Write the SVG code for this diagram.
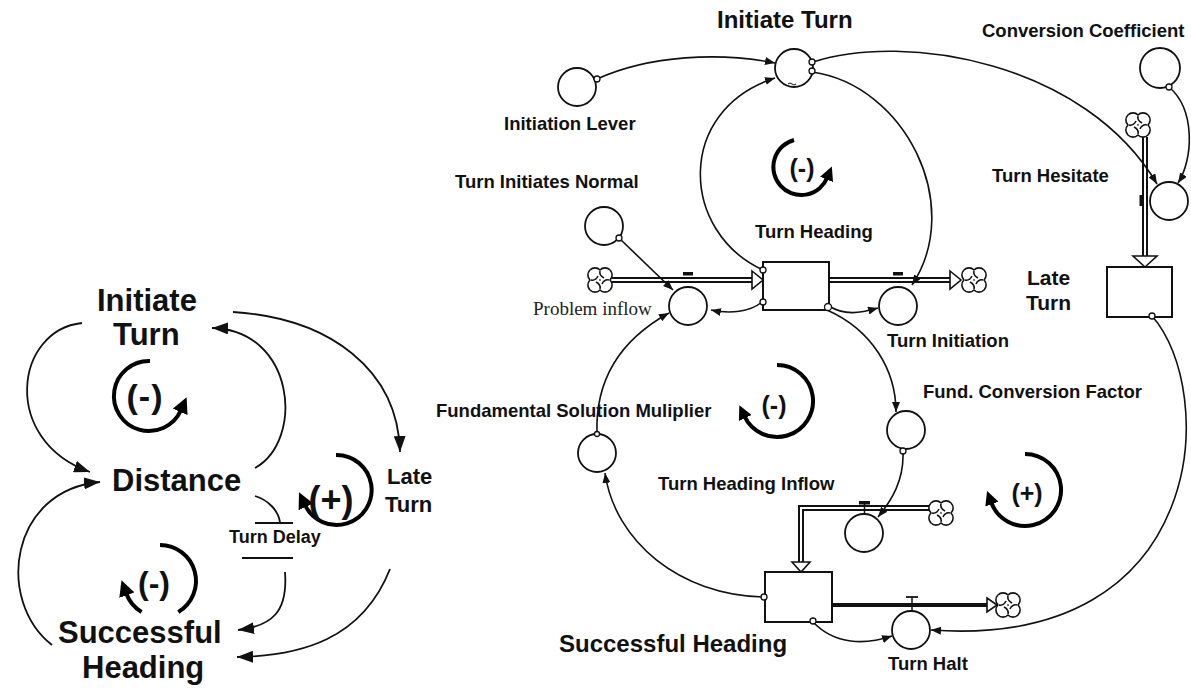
<svg xmlns="http://www.w3.org/2000/svg" xmlns:xlink="http://www.w3.org/1999/xlink" width="1191" height="688" viewBox="0 0 1191 688">
<style>
.bg{fill:#fff}
.t{font-family:"Liberation Sans",Arial,sans-serif;font-weight:bold;fill:#111}
.big{font-size:31px}
.lbl{font-size:18.5px}
.ser{font-family:"Liberation Serif","Times New Roman",serif;font-size:19px;fill:#222}
.c{fill:none;stroke:#111;stroke-width:1.6}
.cl{fill:none;stroke:#111;stroke-width:1.8}
.loop{fill:none;stroke:#000;stroke-width:4}
.aux{fill:#fff;stroke:#111;stroke-width:1.8}
.stock{fill:#fff;stroke:#111;stroke-width:2}
.dot{fill:#fff;stroke:#111;stroke-width:1.3}
.pipeO{fill:none;stroke:#111;stroke-width:6}
.pipeI{fill:none;stroke:#fff;stroke-width:2}
.hollow{fill:#fff;stroke:#111;stroke-width:1.6}
</style>
<defs>
<marker id="a" viewBox="0 0 10 8" refX="10" refY="4" markerWidth="10" markerHeight="8" markerUnits="userSpaceOnUse" orient="auto"><path d="M0,0 L10,4 L0,8 z" fill="#111"/></marker>
<marker id="aL" viewBox="0 0 16 12" refX="16" refY="6" markerWidth="16" markerHeight="12" markerUnits="userSpaceOnUse" orient="auto"><path d="M0,0 L16,6 L0,12 z" fill="#111"/></marker>
<marker id="aLoop" viewBox="0 0 16 16" refX="2" refY="8" markerWidth="16" markerHeight="16" markerUnits="userSpaceOnUse" orient="auto"><path d="M0,0 L16,8 L0,16 z" fill="#000"/></marker>
<marker id="aLoopS" viewBox="0 0 14 14" refX="2" refY="7" markerWidth="14" markerHeight="14" markerUnits="userSpaceOnUse" orient="auto"><path d="M0,0 L14,7 L0,14 z" fill="#000"/></marker>
<g id="cloud">
<g fill="#fff" stroke="#111" stroke-width="3.2">
<circle cx="-5" cy="-5" r="6.3"/><circle cx="5" cy="-5" r="6.3"/><circle cx="-5" cy="5" r="6.3"/><circle cx="5" cy="5" r="6.3"/>
</g>
<g fill="#fff">
<circle cx="-5" cy="-5" r="6.3"/><circle cx="5" cy="-5" r="6.3"/><circle cx="-5" cy="5" r="6.3"/><circle cx="5" cy="5" r="6.3"/>
</g>
<path d="M0,-9 C-1,-5 2,-3 4,-2 M9,0 C5,-1 3,2 2,4 M0,9 C1,5 -2,3 -4,2 M-9,0 C-5,1 -3,-2 -2,-4" fill="none" stroke="#111" stroke-width="1.6"/>
</g>
</defs>
<rect class="bg" x="0" y="0" width="1191" height="688"/>

<!-- ============ LEFT CAUSAL LOOP DIAGRAM ============ -->
<g id="connectors-left">
<path class="cl" d="M82,323 C15,330 0,440 90,472" marker-end="url(#aL)"/>
<path class="cl" d="M52,645 C-5,600 10,490 100,482" marker-end="url(#aL)"/>
<path class="cl" d="M255,468 C305,440 295,330 212,328" marker-end="url(#aL)"/>
<path class="cl" d="M233,312 C330,318 398,370 400,452" marker-end="url(#aL)"/>
<path class="cl" d="M255,496 C268,500 278,510 280,522"/>
<path class="cl" d="M285,572 C288,612 272,626 238,630" marker-end="url(#aL)"/>
<path class="cl" d="M390,569 C362,640 300,656 237,657" marker-end="url(#aL)"/>
<line x1="255" y1="523" x2="293" y2="523" stroke="#111" stroke-width="1.8"/>
<line x1="242" y1="558" x2="293" y2="558" stroke="#111" stroke-width="1.8"/>
</g>
<g id="loop-left-top">
<path class="loop" d="M150,361 A35,35 0 1 0 181,410" marker-end="url(#aLoop)"/>
<text class="t" x="145" y="408" font-size="34" text-anchor="middle" letter-spacing="1">(-)</text>
</g>
<g id="loop-left-plus">
<path class="loop" d="M336,455 A35,35 0 1 1 305,505" marker-end="url(#aLoop)"/>
<text class="t" x="331" y="512" font-size="36" text-anchor="middle">(+)</text>
</g>
<g id="loop-left-bottom">
<path class="loop" d="M160,545 A36,36 0 0 1 178.3,612"/>
<path class="loop" d="M141.6,612 A36,36 0 0 1 126.2,593.3" marker-end="url(#aLoop)"/>
<text class="t" x="154" y="594" font-size="32" text-anchor="middle">(-)</text>
</g>
<g id="node-initiate-turn-left"><text class="t big" x="97" y="311">Initiate</text><text class="t big" x="113" y="345">Turn</text></g>
<g id="node-distance-left"><text class="t big" x="112" y="491">Distance</text></g>
<g id="node-successful-heading-left"><text class="t big" x="58" y="643">Successful</text><text class="t big" x="82" y="678">Heading</text></g>
<g id="node-late-turn-left"><text class="t" font-size="22" x="387" y="484">Late</text><text class="t" font-size="22" x="385" y="512">Turn</text></g>
<g id="label-turn-delay"><text class="t" font-size="18" x="229" y="543">Turn Delay</text></g>

<!-- ============ RIGHT STOCK AND FLOW DIAGRAM ============ -->
<g id="pipes">
<line class="pipeO" x1="612" y1="280" x2="752" y2="280"/><line class="pipeI" x1="612" y1="280" x2="752" y2="280"/>
<path class="hollow" d="M752,271 L763,280 L752,289 z"/>
<line class="pipeO" x1="829" y1="280" x2="950" y2="280"/><line class="pipeI" x1="829" y1="280" x2="950" y2="280"/>
<path class="hollow" d="M950,271 L961,280 L950,289 z"/>
<line class="pipeO" x1="1145" y1="137" x2="1145" y2="256"/><line class="pipeI" x1="1145" y1="137" x2="1145" y2="256"/>
<path class="hollow" d="M1133,256 L1157,256 L1145,267 z"/>
<path class="pipeO" d="M930,508 L801,508 L801,562"/><path class="pipeI" d="M930,508 L801,508 L801,562"/>
<path class="hollow" d="M792,562 L810,562 L801,572 z"/>
<line x1="832" y1="605" x2="987" y2="605" stroke="#111" stroke-width="4"/>
<path class="hollow" d="M987,598 L997,605 L987,612 z"/>
<rect x="683" y="272" width="10" height="3.5" fill="#111"/>
<rect x="893" y="272" width="10" height="3.5" fill="#111"/>
<rect x="1139.5" y="195" width="3" height="11" fill="#111"/>
<rect x="859" y="501" width="11" height="3.5" fill="#111"/>
<line x1="864.5" y1="504" x2="864.5" y2="514" stroke="#111" stroke-width="1.5"/>
<line x1="906" y1="597" x2="918" y2="597" stroke="#111" stroke-width="1.8"/>
<line x1="912" y1="597" x2="912" y2="611" stroke="#111" stroke-width="1.5"/>
<use xlink:href="#cloud" transform="translate(600,280)"/>
<use xlink:href="#cloud" transform="translate(974,280)"/>
<use xlink:href="#cloud" transform="translate(1138,125)"/>
<use xlink:href="#cloud" transform="translate(941,513)"/>
<use xlink:href="#cloud" transform="translate(1008,605)"/>
</g>

<g id="connectors-right">
<path class="c" d="M597,79 C650,55 720,52 775,63" marker-end="url(#a)"/>
<path class="c" d="M763,270 C680,232 675,110 775,78" marker-end="url(#a)"/>
<path class="c" d="M812,72 C905,85 965,205 912,285" marker-end="url(#a)"/>
<path class="c" d="M813,62 C905,32 1085,62 1157,184" marker-end="url(#a)"/>
<path class="c" d="M1169,87 C1196,110 1193,160 1178,183" marker-end="url(#a)"/>
<path class="c" d="M619,238 L673,290" marker-end="url(#a)"/>
<path class="c" d="M762,302 C750,312 730,314 711,310" marker-end="url(#a)"/>
<path class="c" d="M829,306 C845,316 860,313 878,308" marker-end="url(#a)"/>
<path class="c" d="M827,310 C872,330 896,370 896,412" marker-end="url(#a)"/>
<path class="c" d="M903,452 C904,480 892,500 878,517" marker-end="url(#a)"/>
<path class="c" d="M597,434 C595,380 620,340 669,313" marker-end="url(#a)"/>
<path class="c" d="M763,597 C680,595 615,542 605,473" marker-end="url(#a)"/>
<path class="c" d="M813,622 C835,645 865,645 892,636" marker-end="url(#a)"/>
<path class="c" d="M1152,316 C1218,390 1210,650 931,630" marker-end="url(#a)"/>
</g>

<g id="node-initiation-lever"><circle class="aux" cx="577" cy="87" r="19"/><circle class="dot" cx="597" cy="79" r="3"/><text class="t lbl" x="504" y="130">Initiation Lever</text></g>
<g id="node-initiate-turn"><circle class="aux" cx="794" cy="68" r="19"/><path d="M788,84 q2,-2 4,0 t4,0" fill="none" stroke="#111" stroke-width="1"/><circle class="dot" cx="812" cy="62" r="3"/><circle class="dot" cx="812" cy="71" r="3"/><text class="t" font-size="24" x="717" y="28">Initiate Turn</text></g>
<g id="node-conversion-coefficient"><circle class="aux" cx="1160" cy="68" r="20"/><circle class="dot" cx="1169" cy="87" r="3"/><text class="t lbl" x="982" y="37">Conversion Coefficient</text></g>
<g id="node-turn-initiates-normal"><circle class="aux" cx="604" cy="226" r="19"/><circle class="dot" cx="619" cy="238" r="3"/><text class="t lbl" x="455" y="188">Turn Initiates Normal</text></g>
<g id="node-problem-inflow"><circle class="aux" cx="688" cy="306" r="19"/><text class="ser" x="533" y="315">Problem inflow</text></g>
<g id="node-turn-heading"><rect class="stock" x="763" y="262" width="66" height="48"/><circle class="dot" cx="763" cy="270" r="3"/><circle class="dot" cx="763" cy="302" r="3"/><circle class="dot" cx="828" cy="307" r="3.5"/><text class="t lbl" x="755" y="238">Turn Heading</text></g>
<g id="node-turn-initiation"><circle class="aux" cx="898" cy="306" r="19"/><text class="t lbl" x="887" y="347">Turn Initiation</text></g>
<g id="node-turn-hesitate"><circle class="aux" cx="1169" cy="201" r="19"/><text class="t lbl" x="992" y="182">Turn Hesitate</text></g>
<g id="node-late-turn"><rect class="stock" x="1107" y="267" width="65" height="50"/><circle class="dot" cx="1152" cy="316" r="3"/><text class="t" font-size="21" x="1027" y="285">Late</text><text class="t" font-size="21" x="1026" y="310">Turn</text></g>
<g id="node-fund-conversion-factor"><circle class="aux" cx="906" cy="430" r="19"/><circle class="dot" cx="903" cy="451" r="3"/><text class="t lbl" x="923" y="398">Fund. Conversion Factor</text></g>
<g id="node-fundamental-solution-multiplier"><circle class="aux" cx="597" cy="453" r="19"/><circle class="dot" cx="597" cy="434" r="2.5"/><text class="t lbl" x="436" y="417">Fundamental Solution Muliplier</text></g>
<g id="node-turn-heading-inflow"><circle class="aux" cx="864" cy="533" r="19"/><text class="t lbl" x="658" y="490">Turn Heading Inflow</text></g>
<g id="node-successful-heading"><rect class="stock" x="765" y="572" width="67" height="50"/><circle class="dot" cx="764" cy="597" r="3"/><circle class="dot" cx="813" cy="621" r="3"/><text class="t" font-size="24" x="559" y="652">Successful Heading</text></g>
<g id="node-turn-halt"><circle class="aux" cx="911" cy="630" r="19"/><text class="t lbl" x="888" y="670">Turn Halt</text></g>

<g id="loop-right-top">
<path class="loop" d="M794,140 A28,28 0 1 0 827.3,177.6" marker-end="url(#aLoopS)"/>
<text class="t" font-size="25" x="802" y="177" text-anchor="middle">(-)</text>
</g>
<g id="loop-right-middle">
<path class="loop" d="M777,365 A36,36 0 1 1 744.4,416.2" marker-end="url(#aLoopS)"/>
<text class="t" font-size="25" x="774" y="414" text-anchor="middle">(-)</text>
</g>
<g id="loop-right-plus">
<path class="loop" d="M1025,454 A36,36 0 1 1 991.2,502.3" marker-end="url(#aLoopS)"/>
<text class="t" font-size="25" x="1027" y="502" text-anchor="middle">(+)</text>
</g>
</svg>
